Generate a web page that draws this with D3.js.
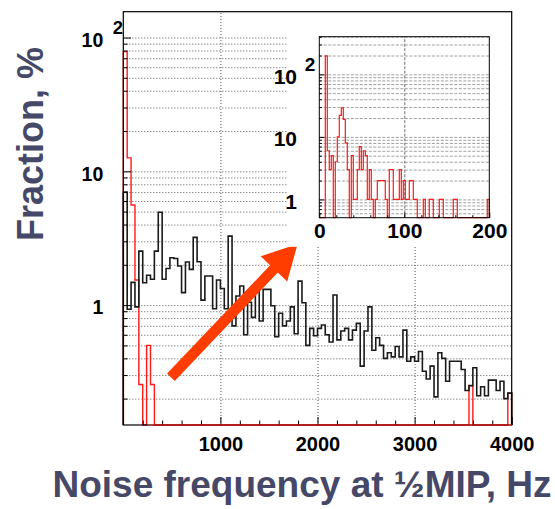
<!DOCTYPE html>
<html><head><meta charset="utf-8">
<script src="https://cdn.jsdelivr.net/npm/d3@7"></script>
<style>
html,body{margin:0;padding:0;background:#fff;}
svg{display:block;}
text{font-family:"Liberation Sans",Arial,Helvetica,sans-serif;font-weight:bold;}
</style></head><body>
<svg id="chart" width="555" height="509"></svg>
<script>
// ---------------- data ----------------
const mainRange = [0, 4000];          // Hz
const blackValues = [
  7.0, 0.93, 1.48, 0.97, 2.53, 1.47, 1.67, 1.56, 2.53, 4.94,
  1.56, 1.88, 2.26, 2.23, 1.96, 1.24, 2.10, 1.85, 3.21, 2.11,
  1.09, 1.65, 1.65, 0.94, 1.54, 1.33, 0.94, 3.28, 0.70, 1.17,
  1.39, 0.60, 1.05, 0.81, 1.39, 0.76, 1.31, 1.31, 0.99, 0.58,
  0.87, 0.70, 0.76, 0.97, 0.61, 1.51, 1.04, 0.50, 0.67, 0.59,
  0.67, 0.71, 0.60, 0.53, 1.19, 0.55, 0.64, 0.67, 0.55, 0.65,
  0.73, 0.35, 0.64, 0.97, 0.46, 0.57, 0.50, 0.40, 0.44, 0.41,
  0.49, 0.41, 0.65, 0.38, 0.41, 0.38, 0.45, 0.32, 0.28, 0.35,
  0.206, 0.44, 0.40, 0.27, 0.38, 0.38, 0.38, 0.33, 0.23, 0.25,
  0.34, 0.21, 0.245, 0.21, 0.275, 0.275, 0.23, 0.27, 0.20, 0.22
];
const redValues = [
  78.5, 12.6, 5.6, 1.54, 0.255, 0, 0.50, 0.255, 0, 0,
  0, 0, 0, 0, 0, 0, 0, 0, 0, 0,
  0, 0, 0, 0, 0, 0, 0, 0, 0, 0,
  0, 0, 0, 0, 0, 0, 0, 0, 0, 0,
  0, 0, 0, 0, 0, 0, 0, 0, 0, 0,
  0, 0, 0, 0, 0, 0, 0, 0, 0, 0,
  0, 0, 0, 0, 0, 0, 0, 0, 0, 0,
  0, 0, 0, 0, 0, 0, 0, 0, 0, 0,
  0, 0, 0, 0, 0, 0, 0, 0, 0, 0.25,
  0, 0, 0, 0, 0, 0, 0, 0, 0, 0.22
];
const insetRange = [0, 200];
const insetValues = [
  0, 0, 0, 198, 6, 3, 5, 0, 4, 10,
  22, 29, 19, 8, 3, 0, 5, 1, 1, 3,
  7, 3, 6, 5, 1, 3, 1, 0, 1, 2,
  2, 2, 2, 1, 0, 3, 3, 1, 1, 1,
  3, 1, 2, 1, 1, 2, 2, 1, 1, 0,
  0, 0, 1, 0, 0, 1, 1, 0, 0, 0,
  1, 1, 0, 0, 0, 0, 0, 1, 1, 0,
  0, 0, 0, 0, 0, 0, 0, 0, 0, 0,
  0, 0, 0, 0, 1
];
const mainXMajorTicks = [1000, 2000, 3000, 4000];
const mainXGridTicks = [1000, 2000, 3000];
const mainXMinorStep = 200;
const mainYMajorTicks = [1, 10, 100];
const insetXMajorTicks = [0, 100, 200];
const insetXGridTicks = [100];
const insetXMinorStep = 20;
const insetYMajorTicks = [1, 10, 100];
const xTitle = "Noise frequency at ½MIP, Hz";
const yTitle = "Fraction, %";
const arrowFrom = [490, 0.289];   // data coords (Hz, %)
const arrowTo = [1795, 2.86];

// ---------------- layout ----------------
const svg = d3.select("#chart");
const M = {left: 123.3, right: 511.7, top: 11.7, bottom: 425};
const I = {left: 319.3, right: 489.3, top: 36.7, bottom: 217.7};
const titleColor = "#464868";
const arrowColor = "#ff3d00";
const red = "#ff1a1a";

const x = d3.scaleLinear().domain(mainRange).range([M.left, M.right]);
const y = d3.scaleLog().domain([0.127, 156]).range([M.bottom, M.top]);
const ix = d3.scaleLinear().domain(insetRange).range([I.left, I.right]);
const iy = d3.scaleLog().domain([0.51, 400]).range([I.bottom, I.top]);

function logGridValues(scale) {
  const [lo, hi] = scale.domain();
  const out = [];
  for (let e = -3; e <= 4; e++) for (let m = 1; m <= 9; m++) {
    const v = +(m * Math.pow(10, e)).toPrecision(3);
    if (v >= lo && v <= hi) out.push(v);
  }
  return out;
}
const isDecade = v => Math.abs(Math.log10(v) - Math.round(Math.log10(v))) < 1e-9;

function histPath(values, lo, hi, sx, sy) {
  const w = (hi - lo) / values.length;
  const base = sy.range()[0];
  const top = sy.range()[1];
  const p = d3.path();
  p.moveTo(sx(lo), base);
  values.forEach((v, i) => {
    const yy = v > 0 ? Math.max(top, Math.min(base, sy(v))) : base;
    p.lineTo(sx(lo + i * w), yy);
    p.lineTo(sx(lo + (i + 1) * w), yy);
  });
  p.lineTo(sx(hi), base);
  return p.toString();
}

function styleAxis(g) {
  g.select(".domain").remove();
  g.attr("font-family", null).attr("font-size", null);
}

// ---------------- main grid ----------------
const mainW = M.right - M.left, mainH = M.bottom - M.top;
svg.append("g").attr("transform", `translate(${M.left},0)`)
  .call(d3.axisLeft(y).tickValues(logGridValues(y)).tickSize(-mainW).tickFormat(""))
  .call(styleAxis)
  .selectAll("line").attr("stroke", "#555").attr("stroke-dasharray", "1,2");
svg.append("g").attr("transform", `translate(0,${M.bottom})`)
  .call(d3.axisBottom(x).tickValues(mainXGridTicks).tickSize(-mainH).tickFormat(""))
  .call(styleAxis)
  .selectAll("line").attr("stroke", "#555").attr("stroke-dasharray", "1,2");

// ---------------- main histograms ----------------
svg.append("path").attr("d", histPath(redValues, mainRange[0], mainRange[1], x, y))
  .attr("fill", "none").attr("stroke", red).attr("stroke-width", 1.4);
svg.append("path").attr("d", histPath(blackValues, mainRange[0], mainRange[1], x, y))
  .attr("fill", "none").attr("stroke", "#1a1a1a").attr("stroke-width", 1.6);

// ---------------- main ticks ----------------
const yMinor = logGridValues(y).filter(v => !isDecade(v));
svg.append("g").attr("transform", `translate(${M.left},0)`)
  .call(d3.axisLeft(y).tickValues(yMinor).tickSize(-4.3).tickFormat(""))
  .call(styleAxis).selectAll("line").attr("stroke", "#000");
const yMajorG = svg.append("g").attr("transform", `translate(${M.left},0)`)
  .call(d3.axisLeft(y).tickValues(mainYMajorTicks).tickSize(-7.7).tickPadding(20)
    .tickFormat(v => v === 100 ? "10" : String(v)))
  .call(styleAxis);
yMajorG.selectAll("line").attr("stroke", "#000");
yMajorG.selectAll("text").attr("font-size", 19.5).attr("fill", "#000").attr("dy", "0.45em");
yMajorG.selectAll(".tick").filter(d => d === 100).append("text")
  .attr("x", -10.5).attr("y", -4.3).attr("text-anchor", "start")
  .attr("font-size", 18.5).attr("fill", "#000").text("2");

const xMinor = d3.range(mainRange[0], mainRange[1] + 1, mainXMinorStep).filter(v => v % 1000 !== 0);
svg.append("g").attr("transform", `translate(0,${M.bottom})`)
  .call(d3.axisBottom(x).tickValues(xMinor).tickSize(-4.5).tickFormat(""))
  .call(styleAxis).selectAll("line").attr("stroke", "#000");
const xMajorG = svg.append("g").attr("transform", `translate(0,${M.bottom})`)
  .call(d3.axisBottom(x).tickValues(mainXMajorTicks).tickSize(-8).tickPadding(12).tickFormat(d3.format("d")))
  .call(styleAxis);
xMajorG.selectAll("line").attr("stroke", "#000");
xMajorG.selectAll("text").attr("font-size", 20).attr("fill", "#000");

// ---------------- arrow ----------------
(function () {
  const tx = x(arrowFrom[0]), ty = y(arrowFrom[1]);
  const hx = x(arrowTo[0]), hy = y(arrowTo[1]);
  const dx = hx - tx, dy = hy - ty, L = Math.hypot(dx, dy);
  const ux = dx / L, uy = dy / L, px = -uy, py = ux;
  const shaftHalf = 5.3, headHalf = 18.3, headLen = 34.3;
  const bx = hx - ux * headLen, by = hy - uy * headLen;
  const pts = [
    [tx + px * shaftHalf, ty + py * shaftHalf],
    [bx + px * shaftHalf, by + py * shaftHalf],
    [bx + px * headHalf, by + py * headHalf],
    [hx, hy],
    [bx - px * headHalf, by - py * headHalf],
    [bx - px * shaftHalf, by - py * shaftHalf],
    [tx - px * shaftHalf, ty - py * shaftHalf]
  ];
  svg.append("path").attr("d", d3.line()(pts) + "Z").attr("fill", arrowColor);
})();

// ---------------- inset ----------------
svg.append("rect").attr("x", 287).attr("y", M.top + 0.8).attr("width", M.right - 0.8 - 287)
  .attr("height", 246 - M.top).attr("fill", "#fff");
const iW = I.right - I.left, iH = I.bottom - I.top;
svg.append("g").attr("transform", `translate(${I.left},0)`)
  .call(d3.axisLeft(iy).tickValues(logGridValues(iy)).tickSize(-iW).tickFormat(""))
  .call(styleAxis)
  .selectAll("line").attr("stroke", "#a0a0a0").attr("stroke-dasharray", "3,1.5");
svg.append("g").attr("transform", `translate(0,${I.bottom})`)
  .call(d3.axisBottom(ix).tickValues(insetXGridTicks).tickSize(-iH).tickFormat(""))
  .call(styleAxis)
  .selectAll("line").attr("stroke", "#707070").attr("stroke-dasharray", "3,1.5");

svg.append("path").attr("d", histPath(insetValues, insetRange[0], insetRange[1], ix, iy))
  .attr("fill", "none").attr("stroke", red).attr("stroke-width", 1.2);

svg.append("rect").attr("x", I.left).attr("y", I.top).attr("width", iW).attr("height", iH)
  .attr("fill", "none").attr("stroke", "#000").attr("stroke-width", 1);

const iyMinor = logGridValues(iy).filter(v => !isDecade(v));
svg.append("g").attr("transform", `translate(${I.left},0)`)
  .call(d3.axisLeft(iy).tickValues(iyMinor).tickSize(-2.5).tickFormat(""))
  .call(styleAxis).selectAll("line").attr("stroke", "#000");
const iyMajorG = svg.append("g").attr("transform", `translate(${I.left},0)`)
  .call(d3.axisLeft(iy).tickValues(insetYMajorTicks).tickSize(-5).tickPadding(22.3)
    .tickFormat(v => v === 100 ? "10" : String(v)))
  .call(styleAxis);
iyMajorG.selectAll("line").attr("stroke", "#000");
iyMajorG.selectAll("text").attr("font-size", 21).attr("fill", "#000").attr("dy", "0.42em");
iyMajorG.selectAll(".tick").filter(d => d === 100).append("text")
  .attr("x", -14.5).attr("y", -4.3).attr("text-anchor", "start")
  .attr("font-size", 19).attr("fill", "#000").text("2");

const ixMinor = d3.range(insetRange[0], insetRange[1] + 1, insetXMinorStep).filter(v => v % 100 !== 0);
svg.append("g").attr("transform", `translate(0,${I.bottom})`)
  .call(d3.axisBottom(ix).tickValues(ixMinor).tickSize(-2.5).tickFormat(""))
  .call(styleAxis).selectAll("line").attr("stroke", "#000");
const ixMajorG = svg.append("g").attr("transform", `translate(0,${I.bottom})`)
  .call(d3.axisBottom(ix).tickValues(insetXMajorTicks).tickSize(-5).tickPadding(5.5).tickFormat(d3.format("d")))
  .call(styleAxis);
ixMajorG.selectAll("line").attr("stroke", "#000");
ixMajorG.selectAll("text").attr("font-size", 21).attr("fill", "#000");

// main frame on top of inset pad, with red zero-bin line along the bottom
svg.append("rect").attr("x", M.left).attr("y", M.top).attr("width", mainW).attr("height", mainH)
  .attr("fill", "none").attr("stroke", "#000").attr("stroke-width", 1.2);
svg.append("line").attr("x1", x(280)).attr("x2", x(mainRange[1])).attr("y1", M.bottom).attr("y2", M.bottom)
  .attr("stroke", red).attr("stroke-width", 1.2);

// ---------------- titles ----------------
svg.append("text").attr("transform", "translate(43,144) rotate(-90)")
  .attr("text-anchor", "middle").attr("font-size", 36).attr("fill", titleColor).text(yTitle);
svg.append("text").attr("x", 302).attr("y", 497)
  .attr("text-anchor", "middle").attr("font-size", 37).attr("fill", titleColor).text(xTitle);
</script>
</body></html>
